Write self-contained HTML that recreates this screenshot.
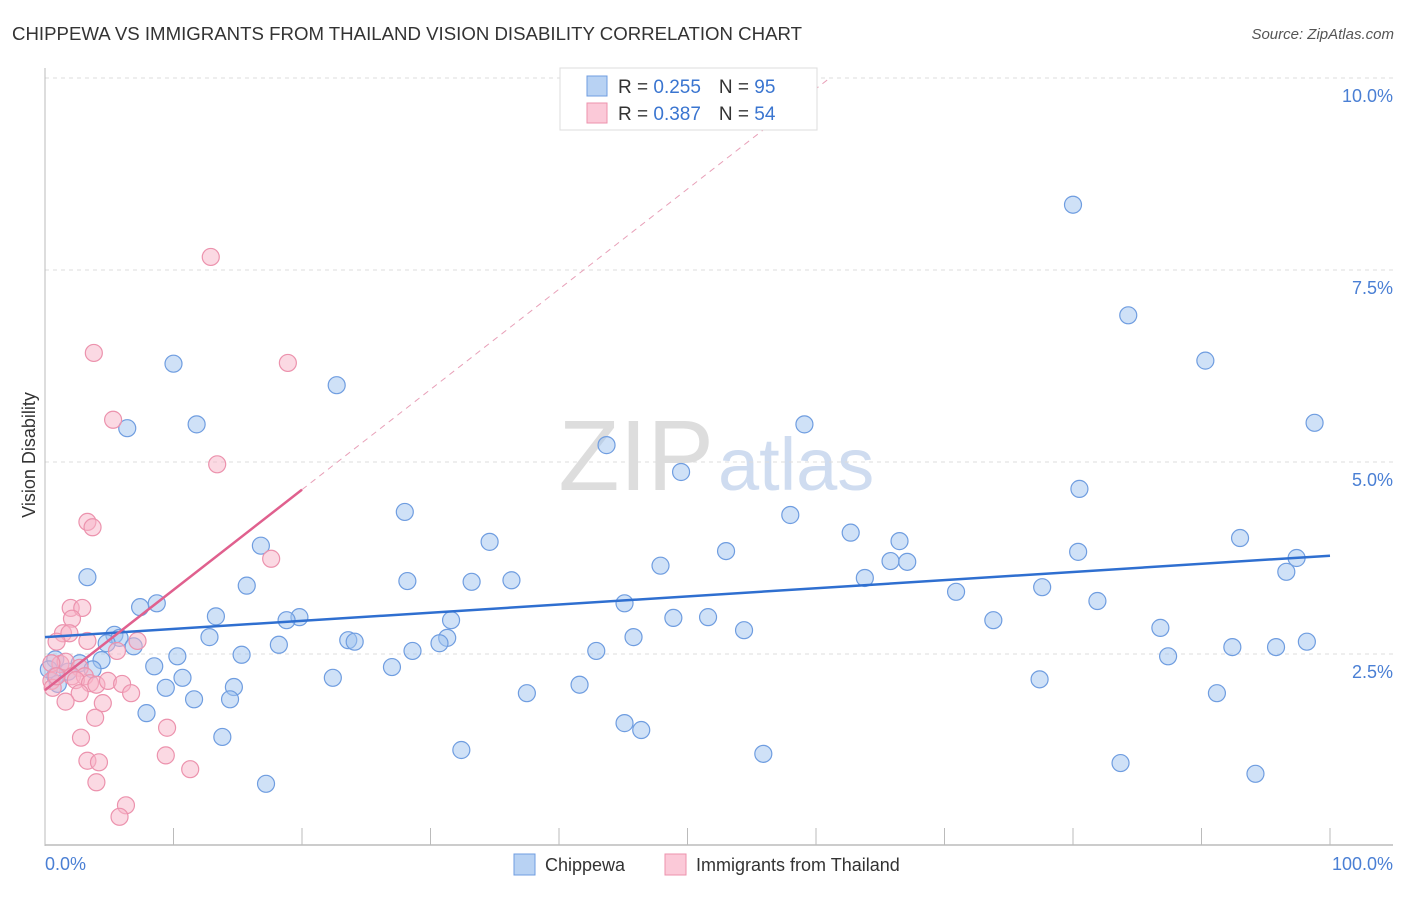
<!DOCTYPE html>
<html><head><meta charset="utf-8">
<style>
body{margin:0;background:#fff;font-family:"Liberation Sans",sans-serif;}
svg text{font-family:"Liberation Sans",sans-serif;}
</style></head>
<body>
<svg width="1406" height="892" viewBox="0 0 1406 892" xmlns="http://www.w3.org/2000/svg">
<text x="12" y="40" font-size="18" fill="#333" textLength="790" lengthAdjust="spacingAndGlyphs">CHIPPEWA VS IMMIGRANTS FROM THAILAND VISION DISABILITY CORRELATION CHART</text>
<text x="1394" y="39" font-size="15" fill="#555" text-anchor="end" font-style="italic">Source: ZipAtlas.com</text>
<text x="714" y="490" font-size="100" fill="#ddd" text-anchor="end" font-family="Liberation Serif">ZIP</text>
<text x="718" y="490" font-size="74" fill="#cfdcf0">atlas</text>
<g id="grid"></g>
<g id="axes"></g>
<g id="marks"></g>
<text x="35" y="455" font-size="18" fill="#333" text-anchor="middle" transform="rotate(-90 35 455)">Vision Disability</text>
<text x="45" y="870" font-size="18" fill="#4a7fd4">0.0%</text>
<text x="1393" y="870" font-size="18" fill="#4a7fd4" text-anchor="end">100.0%</text>
<g>
<rect x="514" y="854" width="21" height="21" fill="#b8d2f3" stroke="#6f9de0"/>
<text x="545" y="871" font-size="18" fill="#333">Chippewa</text>
<rect x="665" y="854" width="21" height="21" fill="#fbc9d8" stroke="#ec92ad"/>
<text x="696" y="871" font-size="18" fill="#333">Immigrants from Thailand</text>
</g>
<g>
<rect x="560" y="68" width="257" height="62" fill="#fff" stroke="#ddd"/>
<rect x="587" y="76" width="20" height="20" fill="#b8d2f3" stroke="#6f9de0"/>
<rect x="587" y="103" width="20" height="20" fill="#fbc9d8" stroke="#ec92ad"/>
<text x="618" y="93" font-size="19" fill="#333">R = <tspan fill="#3a75d0">0.255</tspan><tspan dx="18">N = </tspan><tspan fill="#3a75d0">95</tspan></text>
<text x="618" y="120" font-size="19" fill="#333">R = <tspan fill="#3a75d0">0.387</tspan><tspan dx="18">N = </tspan><tspan fill="#3a75d0">54</tspan></text>
</g>
</svg>
<script>
const yTicks=[2.5,5.0,7.5,10.0];
const yTickLabels=["2.5%","5.0%","7.5%","10.0%"];
const xTicks=[0,10,20,30,40,50,60,70,80,90,100];
const chipX=[80.0,84.3,90.3,98.8,59.1,43.7,49.5,80.5,28.0,58.0,34.6,62.7,66.5,93.0,16.8,53.0,80.4,97.4,65.8,67.1,47.9,96.6,3.3,63.8,36.3,28.2,33.2,15.7,77.6,70.9,81.9,8.7,7.4,45.1,13.3,19.8,18.8,31.6,48.9,51.6,73.8,54.4,86.8,5.4,5.8,12.8,45.8,31.3,23.6,24.1,30.7,98.2,6.9,4.8,18.2,92.4,95.8,28.6,42.9,15.3,87.4,10.3,4.4,0.8,2.7,8.5,27.0,3.7,1.8,10.7,22.4,0.8,1.0,77.4,41.6,9.4,14.7,37.5,91.2,11.6,14.4,7.9,45.1,46.4,13.8,32.4,55.9,83.7,94.2,17.2,10.0,22.7,6.4,11.8,0.3];
const chipY=[8.35,6.91,6.32,5.51,5.49,5.22,4.87,4.65,4.35,4.31,3.96,4.08,3.97,4.01,3.91,3.84,3.83,3.75,3.71,3.70,3.65,3.57,3.50,3.49,3.46,3.45,3.44,3.39,3.37,3.31,3.19,3.16,3.11,3.16,2.99,2.98,2.94,2.94,2.97,2.98,2.94,2.81,2.84,2.75,2.71,2.72,2.72,2.71,2.68,2.66,2.64,2.66,2.60,2.64,2.62,2.59,2.59,2.54,2.54,2.49,2.47,2.47,2.42,2.43,2.38,2.34,2.33,2.30,2.27,2.19,2.19,2.21,2.11,2.17,2.10,2.06,2.07,1.99,1.99,1.91,1.91,1.73,1.60,1.51,1.42,1.25,1.20,1.08,0.94,0.81,6.28,6.00,5.44,5.49,2.30];
const thaiX=[12.9,3.8,18.9,5.3,13.4,3.3,3.7,17.6,2.0,2.9,2.1,1.4,1.9,0.9,3.3,7.2,5.6,1.2,1.6,2.7,2.1,3.1,2.4,3.5,4.0,4.9,6.0,0.5,0.6,6.7,2.7,1.6,4.5,3.9,9.5,2.8,3.3,4.2,9.4,11.3,4.0,6.3,5.8,0.5,0.9];
const thaiY=[7.67,6.42,6.29,5.55,4.97,4.22,4.15,3.74,3.10,3.10,2.96,2.77,2.77,2.66,2.67,2.67,2.54,2.37,2.40,2.32,2.21,2.21,2.16,2.12,2.10,2.15,2.11,2.15,2.06,1.99,1.99,1.88,1.86,1.67,1.54,1.41,1.11,1.09,1.18,1.00,0.83,0.53,0.38,2.38,2.21];
const chipTrend=[2.72,3.78];
const thaiTrend=[2.03,4.64];
const thaiTrendXEnd=20;
const NS="http://www.w3.org/2000/svg";
const X=v=>45+v*12.85, Y=v=>846-v*76.8;
function mk(tag,attrs,parent){const e=document.createElementNS(NS,tag);for(const k in attrs)e.setAttribute(k,attrs[k]);parent.appendChild(e);return e;}
const grid=document.getElementById('grid'),axes=document.getElementById('axes'),marks=document.getElementById('marks');
yTicks.forEach((t,i)=>{
 const l=mk('line',{x1:45,x2:1393,y1:Y(t),y2:Y(t),stroke:'#ddd','stroke-dasharray':'4,4'},grid);
 
 
 const tx=mk('text',{x:1393,y:Y(t)+24,'font-size':18,fill:'#4a7fd4','text-anchor':'end'},grid);
 tx.textContent=yTickLabels[i];
 
 
});
const ya=mk('line',{x1:45,x2:45,y1:68,y2:846,stroke:'#bbb'},axes);


const xa=mk('line',{x1:45,x2:1393,y1:845,y2:845,stroke:'#bbb','stroke-width':1.5},axes);


xTicks.forEach(t=>{
 const l=mk('line',{x1:X(t),x2:X(t),y1:828,y2:845,stroke:'#bbb'},axes);
 
 
});
chipX.forEach((v,i)=>{
 const c=mk('circle',{cx:X(v),cy:Y(chipY[i]),r:8.5,fill:'rgba(160,195,240,0.5)',stroke:'#6f9de0','stroke-width':1.2},marks);
 
 
});
thaiX.forEach((v,i)=>{
 const c=mk('circle',{cx:X(v),cy:Y(thaiY[i]),r:8.5,fill:'rgba(248,180,200,0.5)',stroke:'#ec92ad','stroke-width':1.2},marks);
 
 
});
const bt=mk('line',{x1:X(0),y1:Y(chipTrend[0]),x2:X(100),y2:Y(chipTrend[1]),stroke:'#2f6fd0','stroke-width':2.5},marks);


const slope=(thaiTrend[1]-thaiTrend[0])/thaiTrendXEnd;
const xEndDash=(10.0-thaiTrend[0])/slope;
const pd=mk('line',{x1:X(thaiTrendXEnd),y1:Y(thaiTrend[1]),x2:X(xEndDash),y2:Y(10.0),stroke:'#e8a0b8','stroke-width':1,'stroke-dasharray':'6,5'},marks);


const pt=mk('line',{x1:X(0),y1:Y(thaiTrend[0]),x2:X(thaiTrendXEnd),y2:Y(thaiTrend[1]),stroke:'#e0608e','stroke-width':2.5},marks);


</script>
</body></html>
